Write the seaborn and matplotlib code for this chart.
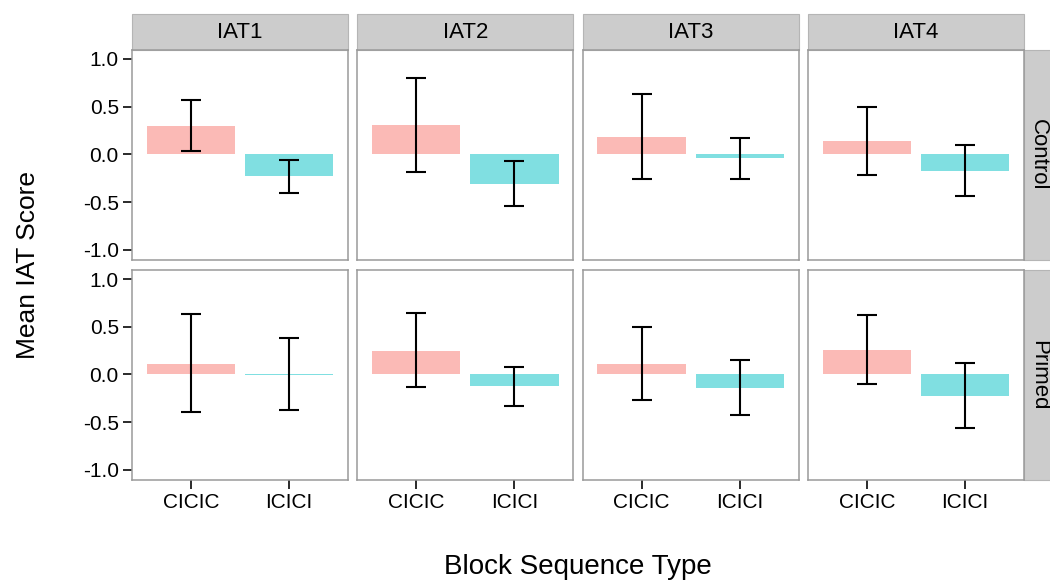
import numpy as np
import pandas as pd
import matplotlib
matplotlib.use("Agg")
import matplotlib.pyplot as plt
from matplotlib.patches import Rectangle
import seaborn as sns

# Summary statistics: mean IAT score and error-bar bounds per block sequence
tests = ["IAT1", "IAT2", "IAT3", "IAT4"]
conditions = ["Control", "Primed"]
sequences = ["CICIC", "ICICI"]

control_mean = [0.30, -0.23, 0.31, -0.31, 0.18, -0.04, 0.14, -0.17]
control_low = [0.035, -0.40, -0.185, -0.545, -0.255, -0.26, -0.215, -0.44]
control_high = [0.57, -0.056, 0.80, -0.067, 0.63, 0.175, 0.50, 0.10]

primed_mean = [0.11, -0.008, 0.25, -0.12, 0.115, -0.14, 0.26, -0.22]
primed_low = [-0.39, -0.37, -0.13, -0.325, -0.265, -0.425, -0.10, -0.56]
primed_high = [0.63, 0.38, 0.64, 0.08, 0.50, 0.15, 0.62, 0.12]

seq_colors = ["#FBBAB6", "#80DFE1"]
y_ticks = [-1.0, -0.5, 0.0, 0.5, 1.0]

rows = []
for cond, means, lows, highs in [
    ("Control", control_mean, control_low, control_high),
    ("Primed", primed_mean, primed_low, primed_high),
]:
    k = 0
    for t in tests:
        for s in sequences:
            rows.append(dict(condition=cond, test=t, seq=s,
                             mean=means[k], low=lows[k], high=highs[k]))
            k += 1
df = pd.DataFrame(rows)

sns.set_theme(style="white")
plt.rcParams["font.family"] = ["Liberation Sans", "DejaVu Sans"]

W, H = 1050, 585
fig, axes = plt.subplots(2, 4, figsize=(W / 100, H / 100), dpi=100,
                         sharex=True, sharey=True)
fig.subplots_adjust(left=132 / W, right=1024 / W, top=1 - 50 / H,
                    bottom=1 - 480 / H, wspace=0.042, hspace=0.048)

border = "#9a9a9a"
strip_fill = "#CCCCCC"

for r, cond in enumerate(conditions):
    for c, t in enumerate(tests):
        ax = axes[r, c]
        sub = df[(df.condition == cond) & (df.test == t)]
        sns.barplot(data=sub, x="seq", y="mean", hue="seq", order=sequences,
                    hue_order=sequences, palette=seq_colors, width=0.9,
                    errorbar=None, legend=False, linewidth=0, saturation=1,
                    ax=ax)
        pos = np.array([sequences.index(s) for s in sub.seq])
        m = sub["mean"].to_numpy()
        ax.errorbar(pos, m, yerr=[m - sub["low"].to_numpy(),
                                  sub["high"].to_numpy() - m],
                    fmt="none", ecolor="black", elinewidth=1.5,
                    capsize=7.2, capthick=1.5)
        ax.set_xlim(-0.6, 1.6)
        ax.set_ylim(-1.105, 1.094)
        ax.set_yticks(y_ticks)
        ax.set_yticklabels([f"{v:.1f}" for v in y_ticks])
        ax.set_xlabel("")
        ax.set_ylabel("")
        for sp in ax.spines.values():
            sp.set_visible(True)
            sp.set_color(border)
            sp.set_linewidth(1.1)
        ax.tick_params(axis="both", which="major", length=6.5, width=1.3,
                       color="#1a1a1a", labelsize=15, labelcolor="black",
                       bottom=(r == 1), left=(c == 0), pad=3)
        if r == 0:
            sh = 36 / 210
            ax.add_patch(Rectangle((0, 1), 1, sh, transform=ax.transAxes,
                                   facecolor=strip_fill, edgecolor="#b5b5b5",
                                   linewidth=0.8, clip_on=False))
            ax.text(0.5, 1 + sh / 2, t, transform=ax.transAxes,
                    ha="center", va="center", fontsize=16, color="black")
        if c == 3:
            sw = 33 / 216
            ax.add_patch(Rectangle((1, 0), sw, 1, transform=ax.transAxes,
                                   facecolor=strip_fill, edgecolor="#b5b5b5",
                                   linewidth=0.8, clip_on=False))
            ax.text(1 + sw / 2 - 0.01, 0.5, cond, transform=ax.transAxes,
                    ha="center", va="center", rotation=-90, fontsize=16,
                    color="black")

fig.text(578 / W, 1 - 567 / H, "Block Sequence Type", ha="center",
         va="center", fontsize=20, color="black")
fig.text(28 / W, 1 - 265 / H, "Mean IAT Score", ha="center", va="center",
         rotation=90, fontsize=19, color="black")

fig.savefig("out.png", dpi=100, facecolor="white")
